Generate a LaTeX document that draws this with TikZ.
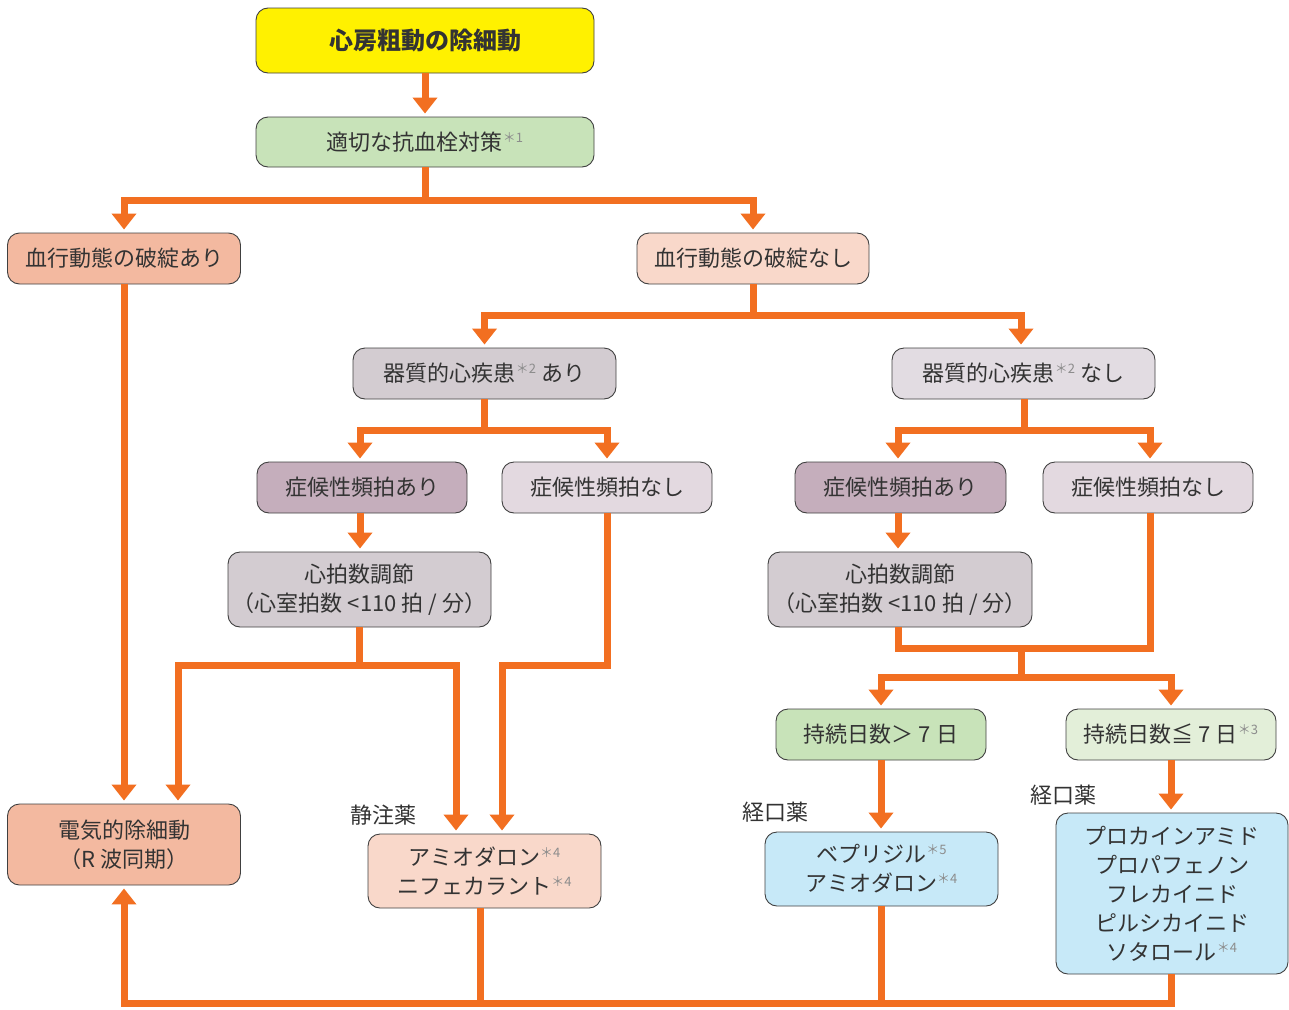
\documentclass[tikz,border=0pt]{standalone}
\usepackage{fontspec}
\usetikzlibrary{arrows.meta}
\newfontfamily\jp{Noto Sans CJK JP}
\definecolor{org}{HTML}{F26F21}
\definecolor{txt}{HTML}{333333}
\definecolor{cyel}{HTML}{FFF100}
\definecolor{cgrn}{HTML}{C8E3B9}
\definecolor{cgrnl}{HTML}{E3EFD9}
\definecolor{csal}{HTML}{F3B9A0}
\definecolor{csall}{HTML}{F9D8CA}
\definecolor{cgry}{HTML}{D3CCD1}
\definecolor{cgryl}{HTML}{E2DCE2}
\definecolor{cmau}{HTML}{C5AEBC}
\definecolor{cmaul}{HTML}{E3D9E0}
\definecolor{cblu}{HTML}{C7E9F8}
\newcommand\nt[1]{\raisebox{8pt}{\color{black!45}\fontsize{13}{13}\selectfont ＊#1}}
\tikzset{
  box/.style={draw=black!75, line width=0.9pt, rounded corners=12pt, align=center,
    text=txt, font=\jp\fontsize{22}{29}\selectfont, inner sep=0pt},
  lbl/.style={text=txt, font=\jp\fontsize{22}{25}\selectfont, inner sep=0pt},
  line/.style={draw=org, line width=7pt},
  flow/.style={line, -{Triangle[width=24pt,length=16pt]}, shorten >=3pt},
}
\begin{document}
\begin{tikzpicture}[x=1pt,y=-1pt]
\useasboundingbox (0,0) rectangle (1289,1009);
% boxes
\node[box, fill=cyel, minimum width=338, minimum height=65, font=\jp\bfseries\fontsize{24}{29}\selectfont] (top) at (425,40.5) {心房粗動の除細動};
\node[box, fill=cgrn, minimum width=338, minimum height=50] (anti) at (425,142) {適切な抗血栓対策\nt{1}};
\node[box, fill=csal, minimum width=233, minimum height=51] (hA) at (124,258.5) {血行動態の破綻あり};
\node[box, fill=csall, minimum width=232, minimum height=51] (hN) at (753,258.5) {血行動態の破綻なし};
\node[box, fill=cgry, minimum width=263, minimum height=51] (sA) at (484.5,373.5) {器質的心疾患\nt{2} あり};
\node[box, fill=cgryl, minimum width=263, minimum height=51] (sN) at (1023.5,373.5) {器質的心疾患\nt{2} なし};
\node[box, fill=cmau, minimum width=210, minimum height=51] (tA1) at (362,487.5) {症候性頻拍あり};
\node[box, fill=cmaul, minimum width=210, minimum height=51] (tN1) at (607,487.5) {症候性頻拍なし};
\node[box, fill=cmau, minimum width=211, minimum height=51] (tA2) at (900.5,487.5) {症候性頻拍あり};
\node[box, fill=cmaul, minimum width=210, minimum height=51] (tN2) at (1148,487.5) {症候性頻拍なし};
\node[box, fill=cgry, minimum width=263, minimum height=75] (rc1) at (359.5,589.5) {心拍数調節\\（心室拍数 <110 拍 / 分）};
\node[box, fill=cgry, minimum width=264, minimum height=75] (rc2) at (900,589.5) {心拍数調節\\（心室拍数 <110 拍 / 分）};
\node[box, fill=cgrn, minimum width=210, minimum height=51] (d1) at (881,734.5) {持続日数＞ 7 日};
\node[box, fill=cgrnl, minimum width=210, minimum height=51] (d2) at (1171,734.5) {持続日数≦ 7 日\nt{3}};
\node[box, fill=csal, minimum width=233, minimum height=81] (cv) at (124,844.5) {電気的除細動\\（R 波同期）};
\node[box, fill=csall, minimum width=233, minimum height=74] (iv) at (484.5,871) {アミオダロン\nt{4}\\ニフェカラント\nt{4}};
\node[box, fill=cblu, minimum width=233, minimum height=74] (po1) at (881.5,869) {ベプリジル\nt{5}\\アミオダロン\nt{4}};
\node[box, fill=cblu, minimum width=232, minimum height=161] (po2) at (1172,893.5) {プロカインアミド\\プロパフェノン\\フレカイニド\\ピルシカイニド\\ソタロール\nt{4}};
% route labels
\node[lbl] (lIV) at (383,815) {静注薬};
\node[lbl] (lPO1) at (775,812) {経口薬};
\node[lbl] (lPO2) at (1063,795) {経口薬};
% connectors
\coordinate (base) at (0,1003);
\draw[flow] (top) -- (anti);
\draw[line] (anti.south) -- ++(0,33) coordinate (j1);
\draw[flow] (j1) -| (hA.north);
\draw[flow] (j1) -| (hN.north);
\draw[flow] (hA.south) -- (cv.north);
\draw[line] (hN.south) -- ++(0,31) coordinate (j2);
\draw[flow] (j2) -| (sA.north);
\draw[flow] (j2) -| ([xshift=-2.5pt]sN.north);
\draw[line] (sA.south) -- ++(0,31) coordinate (j3);
\draw[flow] (j3) -| ([xshift=-2pt]tA1.north);
\draw[flow] (j3) -| (tN1.north);
\draw[line] ([xshift=0.5pt]sN.south) -- ++(0,31) coordinate (j4);
\draw[flow] (j4) -| ([xshift=-2.5pt]tA2.north);
\draw[flow] (j4) -| ([xshift=2pt]tN2.north);
\draw[flow] ([xshift=-2pt]tA1.south) -- ([xshift=-2pt]tA1.south |- rc1.north);
\draw[flow] ([xshift=-2.5pt]tA2.south) -- ([xshift=-2.5pt]tA2.south |- rc2.north);
\draw[line] (rc1.south) -- ++(0,38) coordinate (j5);
\draw[flow] (j5) -| ([xshift=54pt]cv.north);
\draw[flow] (j5) -| ([xshift=-28.5pt]iv.north);
\draw[flow] (tN1.south) -- (tN1.south |- j5) -| ([xshift=17.5pt]iv.north);
\draw[line] ([xshift=-2pt]rc2.south) -- ++(0,21) -| ([xshift=2pt]tN2.south);
\draw[line] (1021,648) -- (1021,677) coordinate (j6);
\draw[flow] (j6) -| (d1.north);
\draw[flow] (j6) -| (d2.north);
\draw[flow] (d1.south) -- (d1.south |- po1.north);
\draw[flow] (d2.south) -- (d2.south |- po2.north);
\draw[line] ([xshift=-4.5pt]iv.south) -- ([xshift=-4.5pt]iv.south |- base);
\draw[line] ([xshift=-0.5pt]po1.south) -- ([xshift=-0.5pt]po1.south |- base);
\draw[flow] ([xshift=-1pt]po2.south) |- (base -| cv.south) -- (cv.south);
\end{tikzpicture}
\end{document}
